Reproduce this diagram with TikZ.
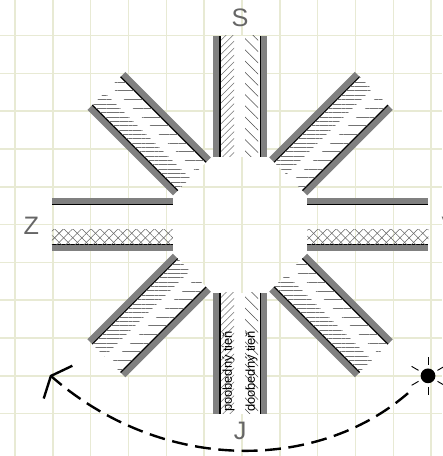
\documentclass[tikz,border=0pt]{standalone}
\usepackage{fontspec}
\setmainfont{Liberation Sans}
\usetikzlibrary{arrows.meta, patterns.meta}
\definecolor{gridgreen}{HTML}{E8EAD4}
\definecolor{wallgray}{HTML}{808080}
\definecolor{labelgray}{HTML}{666666}
\tikzset{
  gridline/.style={draw=gridgreen, line width=1.1pt},
  streetbg/.style={fill=white, draw=none},
  wall/.style={fill=wallgray, draw=none},
  walledge/.style={draw=black, line width=.9pt},
  sidelabel/.style={font=\fontsize{19}{22}\selectfont, text=labelgray, inner sep=0pt},
  shadelabel/.style={font=\fontsize{9.7}{11}\selectfont, inner sep=0pt, rotate=90, anchor=base west},
  sunnode/.style={circle, fill=black, minimum size=.39cm, inner sep=0pt},
  sunray/.style={draw=black, line width=.7pt},
  sunpath/.style={draw=black, line width=1.8pt, dash pattern=on .42cm off .2cm,
    -{Straight Barb[length=.25cm, width=1.15cm, line width=1.8pt]}},
  densehatch/.style={pattern={Lines[angle=0, distance=.115cm, line width=.4pt]}, pattern color=black!55},
  sparsehatch/.style={pattern={Lines[angle=0, distance=.23cm, line width=.4pt]}, pattern color=black!55},
  lefthatch/.style={pattern={Lines[angle=45, distance=.13cm, line width=.4pt]}, pattern color=black!55},
  righthatch/.style={pattern={Lines[angle=-45, distance=.21cm, line width=.4pt]}, pattern color=black!70},
  crosshatch/.style={pattern={Lines[angle=45, distance=.17cm, line width=.4pt]}, pattern color=black!60}
}
\begin{document}
\begin{tikzpicture}
  \useasboundingbox (-6.35,-6.12) rectangle (5.34,5.94);

  % Background squares.
  \foreach \k in {-6,...,5}
    \draw[gridline] (\k+.05,-6.12) -- (\k+.05,5.94);
  \foreach \k in {-5,...,5}
    \draw[gridline] (-6.35,\k) -- (5.34,\k);

  % North and south streets.
  \foreach \sgn in {1,-1} {
    \begin{scope}[yscale=\sgn]
      \fill[streetbg] (-.53,1.8) rectangle (.53,5);
      \fill[wall] (-.72,1.8) rectangle (-.53,5);
      \fill[wall] (.72,1.8) rectangle (.53,5);
      \draw[walledge] (-.53,1.8) -- (-.53,5);
      \draw[walledge] (.53,1.8) -- (.53,5);
      \fill[lefthatch] (-.5,1.8) rectangle (-.16,5);
      \fill[righthatch] (.13,1.8) rectangle (.48,5);
    \end{scope}
  }

  % East and west streets.
  \foreach \sgn in {1,-1} {
    \begin{scope}[xscale=\sgn]
      \fill[wall] (1.78,.54) rectangle (4.98,.7);
      \fill[wall] (1.78,-.53) rectangle (4.98,-.71);
      \draw[walledge] (1.78,.54) -- (4.98,.54);
      \draw[walledge] (1.78,-.53) -- (4.98,-.53);
      \fill[crosshatch] (1.78,-.14) rectangle (4.98,-.52);
      \fill[crosshatch, pattern={Lines[angle=-45, distance=.17cm, line width=.4pt]}] (1.78,-.14) rectangle (4.98,-.52);
    \end{scope}
  }

  % Diagonal streets: the denser lines lie on the side of \sgn.
  \foreach \ang/\sgn in {45/1, 135/1, 225/-1, 315/-1} {
    \begin{scope}[rotate=\ang]
      \fill[streetbg] (1.8,-.53) rectangle (5,.53);
      \fill[wall] (1.8,.53) rectangle (5,.71);
      \fill[wall] (1.8,-.53) rectangle (5,-.71);
      \draw[walledge] (1.8,.53) -- (5,.53);
      \draw[walledge] (1.8,-.53) -- (5,-.53);
      \fill[densehatch] (1.8,\sgn*.52) rectangle (5,\sgn*.07);
      \fill[sparsehatch] (1.8,-\sgn*.52) rectangle (5,-\sgn*.17);
    \end{scope}
  }

  \node[sidelabel] (north) at (0,5.48) {S};
  \node[sidelabel] (south) at (0,-5.46) {J};
  \node[sidelabel] (west) at (-5.52,-.03) {Z};
  \node[sidelabel] (east) at (5.55,-.03) {V};
  \node[shadelabel] (afternoon) at (-.22,-4.96) {poobedný tieň};
  \node[shadelabel] (morning) at (.39,-4.96) {doobedný tieň};

  % Sun and its daily path.
  \node[sunnode] (sun) at (4.97,-4) {};
  \coordinate (tip) at (-5.03,-3.98);
  \foreach \ang in {30,90,...,330}
    \draw[sunray] (sun.center) ++(\ang:.29) -- ++(\ang:.21);
  \draw[sunpath, shorten <=.7cm] (sun.center) to[bend left=41] (tip);
\end{tikzpicture}
\end{document}
